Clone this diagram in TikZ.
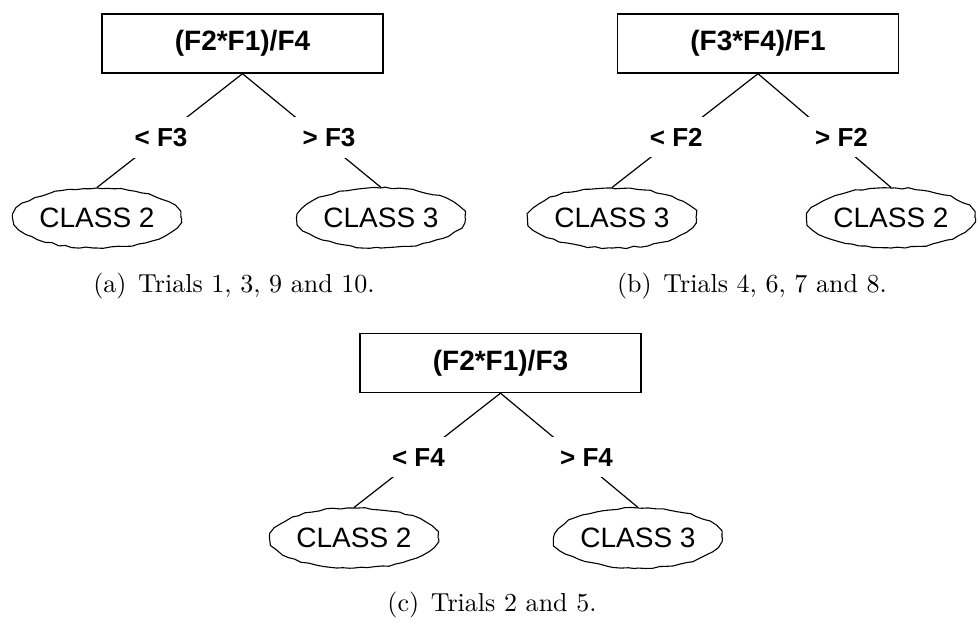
\documentclass[tikz,border=0pt]{standalone}
\usepackage{fontspec}
\setsansfont{Liberation Sans}
\newfontfamily\capfont{lmroman10-regular.otf}
\usetikzlibrary{shapes.geometric,decorations.pathmorphing}
\tikzset{
    testbox/.style={rectangle, draw, line width=1.4pt, minimum width=281pt, minimum height=59pt, inner sep=0pt, font=\sffamily\bfseries\fontsize{28}{32}\selectfont},
    classleaf/.style={ellipse, draw, line width=1.1pt, minimum width=168pt, minimum height=60pt, inner sep=0pt, font=\sffamily\fontsize{28}{32}\selectfont, decorate, decoration={random steps, segment length=7pt, amplitude=0.9pt}},
    branch/.style={line width=1.2pt},
    cutlabel/.style={fill=white, inner xsep=8pt, inner ysep=11pt, pos=0.56, font=\sffamily\bfseries\fontsize{26}{30}\selectfont},
    cutlabelR/.style={cutlabel, xshift=9pt},
    subcap/.style={font=\capfont\fontsize{26}{30}\selectfont},
}
\pgfmathsetseed{7}

\begin{document}
\begin{tikzpicture}[x=1pt, y=-1pt]
    \useasboundingbox (0,0) rectangle (977,622);

    % (a)
    \node[testbox] (rootA) at (242.5,43.5) {(F2*F1)/F4};
    \node[classleaf] (leftA) at (97,218) {CLASS 2};
    \node[classleaf] (rightA) at (381,218) {CLASS 3};
    \draw[branch] (rootA.south) -- node[cutlabel] (ltA) {< F3} (leftA.north);
    \draw[branch] (rootA.south) -- node[cutlabelR] (gtA) {> F3} (rightA.north);
    \node[subcap] (capA) at (234,286) {(a)\hspace{0.45em}Trials 1, 3, 9 and 10.};

    % (b)
    \node[testbox] (rootB) at (758,43.5) {(F3*F4)/F1};
    \node[classleaf] (leftB) at (612,218) {CLASS 3};
    \node[classleaf] (rightB) at (891,218) {CLASS 2};
    \draw[branch] (rootB.south) -- node[cutlabel] (ltB) {< F2} (leftB.north);
    \draw[branch] (rootB.south) -- node[cutlabelR] (gtB) {> F2} (rightB.north);
    \node[subcap] (capB) at (752,286) {(b)\hspace{0.45em}Trials 4, 6, 7 and 8.};

    % (c)
    \node[testbox] (rootC) at (500.5,363) {(F2*F1)/F3};
    \node[classleaf] (leftC) at (354,538) {CLASS 2};
    \node[classleaf] (rightC) at (638,538) {CLASS 3};
    \draw[branch] (rootC.south) -- node[cutlabel] (ltC) {< F4} (leftC.north);
    \draw[branch] (rootC.south) -- node[cutlabelR] (gtC) {> F4} (rightC.north);
    \node[subcap] (capC) at (492,605) {(c)\hspace{0.45em}Trials 2 and 5.};
\end{tikzpicture}
\end{document}
